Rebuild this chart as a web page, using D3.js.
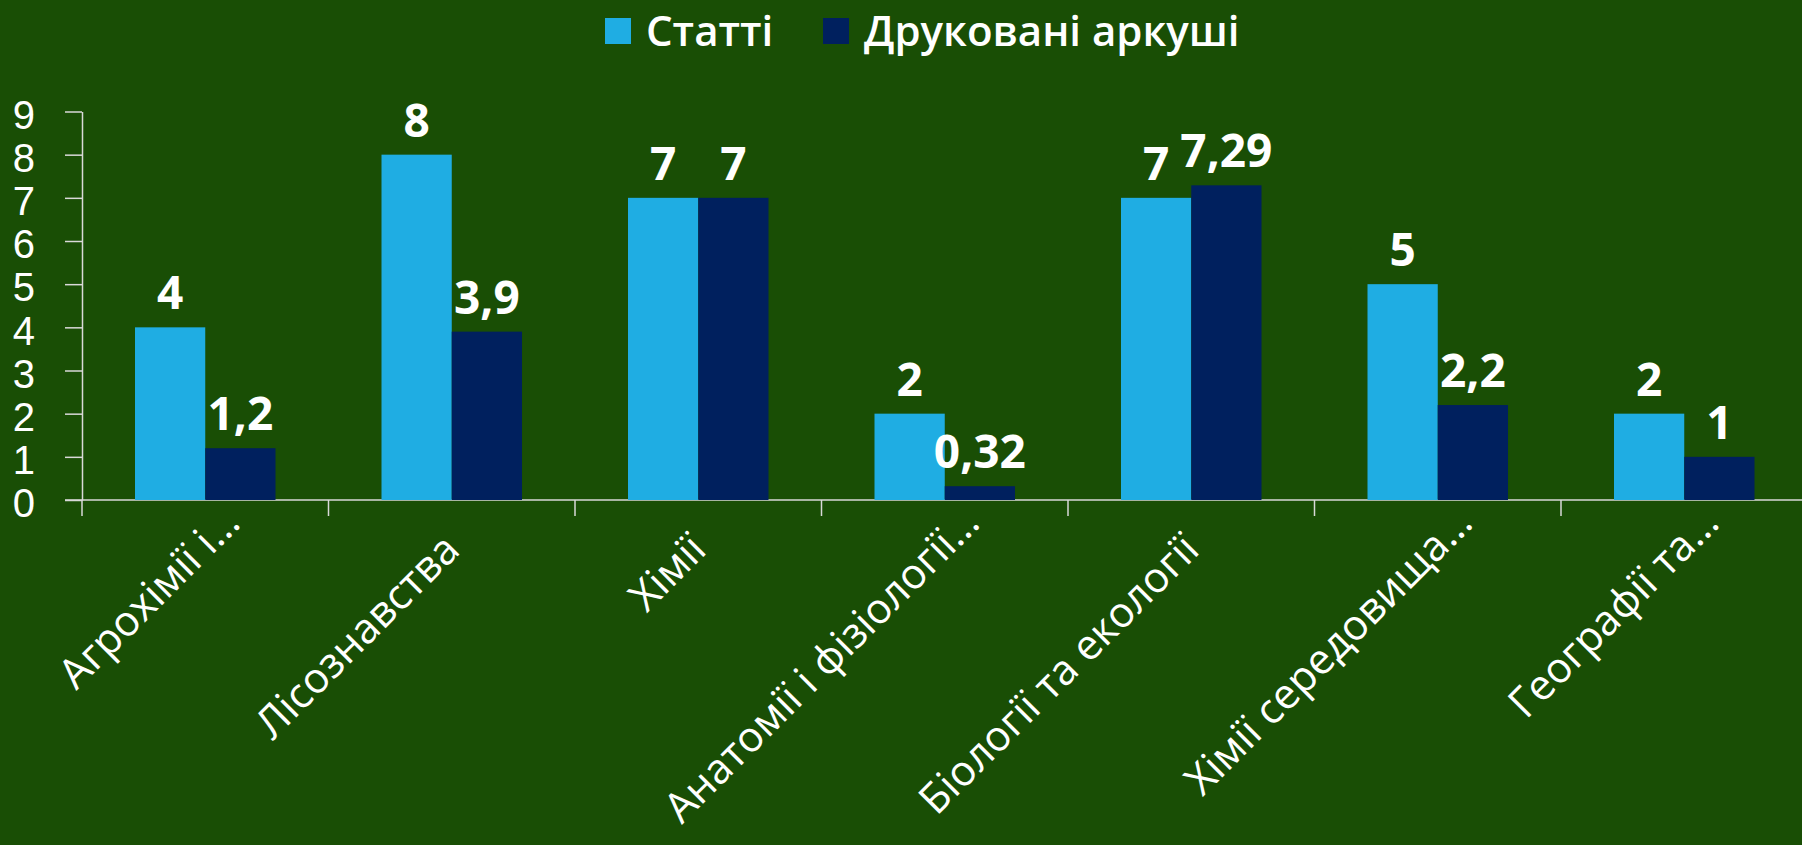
<!DOCTYPE html>
<html>
<head>
<meta charset="utf-8">
<script src="https://cdn.jsdelivr.net/npm/d3@7"></script>
<style>
  html, body { margin: 0; padding: 0; background: #194e05; overflow: hidden; }
  svg { display: block; font-family: "Open Sans", "Noto Sans", sans-serif; }
  .axis path, .axis line { stroke: #d9d9d9; stroke-width: 1.5; }
  .axis text { fill: #fff; font-size: 40px; }
</style>
</head>
<body>
<svg id="chart" width="1802" height="845"></svg>
<script>
// categories (as shown, truncated by the original chart)
const CATEGORIES = [
  "Агрохімії і…",
  "Лісознавства",
  "Хімії",
  "Анатомії і фізіології…",
  "Біології та екології",
  "Хімії середовища…",
  "Географії та…",
];
const SERIES = ["Статті", "Друковані аркуші"];
const ARTICLES = [4, 8, 7, 2, 7, 5, 2];
const SHEETS = [1.2, 3.9, 7, 0.32, 7.29, 2.2, 1];
const Y_TICKS = [0, 1, 2, 3, 4, 5, 6, 7, 8, 9];

const COLORS = d3.scaleOrdinal().domain(SERIES).range(["#1fade3", "#00205e"]);

const svg = d3.select("#chart");
const m = { top: 111.5, left: 82 };
const axisY = 500;

const rows = CATEGORIES.map((c, i) => ({
  cat: c,
  values: [
    { key: SERIES[0], value: ARTICLES[i] },
    { key: SERIES[1], value: SHEETS[i] },
  ],
}));

const x0 = d3
  .scaleBand()
  .domain(CATEGORIES)
  .range([m.left, m.left + 7 * 246.5])
  .paddingInner(0.43)
  .paddingOuter(0.215);
const x1 = d3.scaleBand().domain(SERIES).range([0, x0.bandwidth()]);
const y = d3.scaleLinear().domain([0, 9]).range([axisY, m.top]);
const step = x0.step();

// y axis
const gy = svg
  .append("g")
  .attr("class", "axis y")
  .attr("transform", `translate(${m.left},0)`)
  .call(d3.axisLeft(y).tickValues(Y_TICKS).tickSize(17).tickPadding(30).tickSizeOuter(0));
gy.selectAll("text").attr("dy", "0.42em");

// x axis line + category boundary ticks
const gx = svg.append("g").attr("class", "axis x");
gx.append("line")
  .attr("x1", m.left - 17)
  .attr("x2", 1802)
  .attr("y1", axisY)
  .attr("y2", axisY);
gx.selectAll("line.sep")
  .data(CATEGORIES)
  .join("line")
  .attr("class", "sep")
  .attr("x1", (d) => x0(d) - step * 0.215)
  .attr("x2", (d) => x0(d) - step * 0.215)
  .attr("y1", axisY)
  .attr("y2", axisY + 16);

// bars
const groups = svg
  .append("g")
  .selectAll("g")
  .data(rows)
  .join("g")
  .attr("transform", (d) => `translate(${x0(d.cat)},0)`);

groups
  .selectAll("rect")
  .data((d) => d.values)
  .join("rect")
  .attr("x", (d) => x1(d.key))
  .attr("width", x1.bandwidth())
  .attr("y", (d) => y(d.value))
  .attr("height", (d) => y(0) - y(d.value))
  .attr("fill", (d) => COLORS(d.key));

groups
  .selectAll("text")
  .data((d) => d.values)
  .join("text")
  .attr("x", (d) => x1(d.key) + x1.bandwidth() / 2)
  .attr("y", (d) => y(d.value) - 18)
  .attr("text-anchor", "middle")
  .attr("fill", "#fff")
  .attr("font-size", 46)
  .attr("font-weight", 700)
  .text((d) => String(d.value).replace(".", ","));

// category labels, rotated
svg
  .append("g")
  .selectAll("text")
  .data(CATEGORIES)
  .join("text")
  .attr(
    "transform",
    (d) => `translate(${x0(d) + x0.bandwidth() / 2 + 10},${axisY + 52}) rotate(-45)`
  )
  .attr("dx", (d) => (d.endsWith("…") ? 38 : 0))
  .attr("text-anchor", "end")
  .attr("fill", "#fff")
  .attr("font-size", 42)
  .text((d) => d);

// legend
const legendPos = [605, 823];
const legend = svg
  .append("g")
  .selectAll("g")
  .data(SERIES)
  .join("g")
  .attr("transform", (d, i) => `translate(${legendPos[i]},18)`);
legend
  .append("rect")
  .attr("width", 26)
  .attr("height", 26)
  .attr("fill", (d) => COLORS(d));
legend
  .append("text")
  .attr("x", 41)
  .attr("y", 28)
  .attr("fill", "#fff")
  .attr("font-size", 42)
  .attr("font-weight", 600)
  .text((d) => d);
</script>
</body>
</html>
